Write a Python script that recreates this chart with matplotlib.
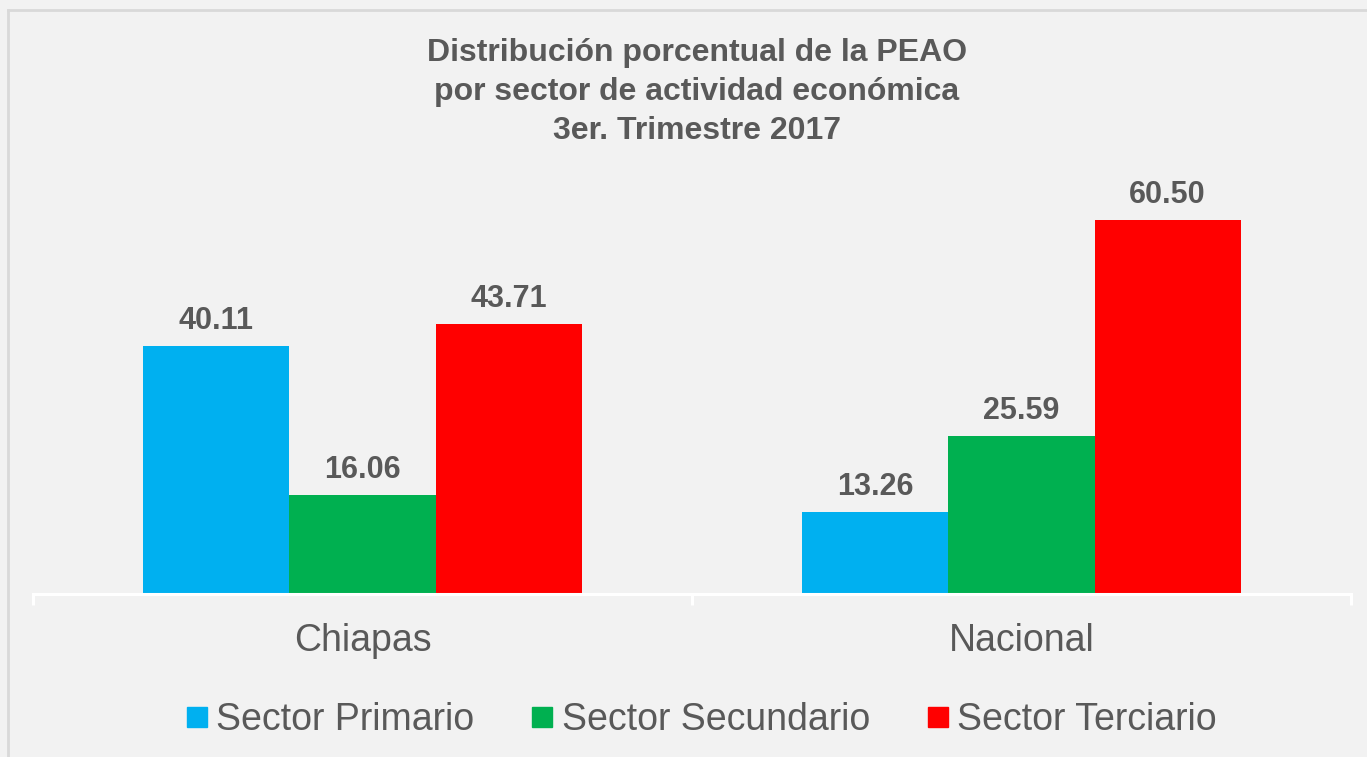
import matplotlib
matplotlib.use("Agg")
import matplotlib.pyplot as plt
from matplotlib.lines import Line2D
import numpy as np

plt.rcParams['font.family'] = ['Liberation Sans', 'DejaVu Sans']

categories = ["Chiapas", "Nacional"]
series_names = ["Sector Primario", "Sector Secundario", "Sector Terciario"]
primario = [40.11, 13.26]
secundario = [16.06, 25.59]
terciario = [43.71, 60.50]
title_lines = ["Distribución porcentual de la PEAO",
               "por sector de actividad económica",
               "3er. Trimestre 2017"]

colors = ["#00b0f0", "#00b050", "#ff0000"]
text_color = "#595959"
bg = "#f2f2f2"

W, H = 1367, 757
fig = plt.figure(figsize=(W / 100, H / 100), dpi=100, facecolor=bg)

# axes placement in pixels
ax_left, ax_right = 33, 1351
ax_bottom_px, ax_top_px = 594, 161
ax = fig.add_axes([ax_left / W, 1 - ax_bottom_px / H,
                   (ax_right - ax_left) / W, (ax_bottom_px - ax_top_px) / H])
ax.set_facecolor(bg)

x = np.arange(len(categories))
bw = 0.2216
all_series = [primario, secundario, terciario]
for i, (vals, c, name) in enumerate(zip(all_series, colors, series_names)):
    pos = x + (i - 1) * bw
    bars = ax.bar(pos, vals, width=bw, color=c, label=name, zorder=2)
    for b, v in zip(bars, vals):
        ax.annotate(f"{v:.2f}", (b.get_x() + b.get_width() / 2, v),
                    xytext=(0, 12), textcoords="offset points",
                    ha="center", va="baseline", fontsize=22,
                    fontweight="bold", color=text_color)

ax.set_xlim(-0.5, len(categories) - 0.5)
ax.set_ylim(0, 70)
ax.set_yticks([])
for s in ["top", "right", "left"]:
    ax.spines[s].set_visible(False)
ax.spines["bottom"].set_color("white")
ax.spines["bottom"].set_linewidth(2.2)
ax.spines["bottom"].set_zorder(3)

ax.set_xticks(x)
ax.set_xticklabels(categories, fontsize=27, color=text_color)
ax.tick_params(axis="x", which="major", length=0, pad=21)
ax.set_xticks(np.arange(-0.5, len(categories)), minor=True)
ax.tick_params(axis="x", which="minor", length=8, width=2.2, color="white")

# title
y0 = 61
for k, line in enumerate(title_lines):
    fig.text(697 / W, 1 - (y0 + 39 * k) / H, line, ha="center", va="baseline",
             fontsize=23, fontweight="bold", color=text_color)

# legend
handles = [Line2D([], [], marker="s", linestyle="none", markersize=13.7,
                  markerfacecolor=c, markeredgecolor=c) for c in colors]
leg = fig.legend(handles, series_names, loc="center", ncol=3,
                 bbox_to_anchor=(702 / W, 1 - 720 / H), frameon=False,
                 fontsize=27, handlelength=0.53, handletextpad=0.25,
                 columnspacing=1.55, labelcolor=text_color)

# border
fig.add_artist(Line2D([8 / W, 8 / W], [0, 1 - 10 / H], transform=fig.transFigure,
                      color="#d9d9d9", linewidth=2))
fig.add_artist(Line2D([8 / W, 1], [1 - 10 / H, 1 - 10 / H], transform=fig.transFigure,
                      color="#d9d9d9", linewidth=2))

fig.savefig("out.png", dpi=100, facecolor=bg)
